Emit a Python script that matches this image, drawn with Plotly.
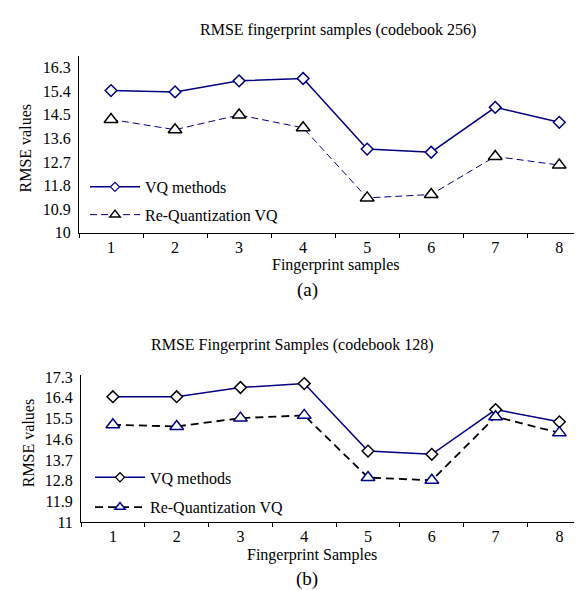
import plotly.graph_objects as go

W, H = 582, 590

samples = ["1", "2", "3", "4", "5", "6", "7", "8"]
vq_256 = [15.42, 15.37, 15.79, 15.88, 13.19, 13.07, 14.78, 14.21]
rq_256 = [14.32, 13.93, 14.49, 14.00, 11.33, 11.46, 12.91, 12.58]
vq_128 = [16.45, 16.45, 16.85, 17.02, 14.09, 13.95, 15.89, 15.36]
rq_128 = [15.23, 15.16, 15.52, 15.64, 12.94, 12.82, 15.58, 14.88]
yticks_256 = [10, 10.9, 11.8, 12.7, 13.6, 14.5, 15.4, 16.3]
yticks_128 = [11, 11.9, 12.8, 13.7, 14.6, 15.5, 16.4, 17.3]

NAVY = "#000080"
FONT = "Liberation Serif"


def px(x):
    return x / W


def py(y):
    return 1 - y / H


fig = go.Figure()

# top chart
fig.add_trace(go.Scatter(x=samples, y=vq_256, mode="lines+markers", xaxis="x", yaxis="y",
                         line=dict(color=NAVY, width=1.5),
                         marker=dict(symbol="diamond", size=9, color="white",
                                     line=dict(color=NAVY, width=1.5)),
                         showlegend=False))
fig.add_trace(go.Scatter(x=samples, y=rq_256, mode="lines+markers", xaxis="x", yaxis="y",
                         line=dict(color=NAVY, width=1, dash="7px,4px"),
                         marker=dict(symbol="triangle-up", size=12, color="white",
                                     line=dict(color="black", width=1.5)),
                         showlegend=False))
# legend samples top
fig.add_trace(go.Scatter(x=[None], y=[None], mode="lines+markers", xaxis="x", yaxis="y",
                         name="VQ methods", legend="legend", legendgroup="a1",
                         line=dict(color=NAVY, width=1.5),
                         marker=dict(symbol="diamond", size=7, color="white",
                                     line=dict(color=NAVY, width=1.2))))
fig.add_trace(go.Scatter(x=[None], y=[None], mode="lines+markers", xaxis="x", yaxis="y",
                         name="Re-Quantization VQ", legend="legend", legendgroup="a2",
                         line=dict(color=NAVY, width=1, dash="7px,4px"),
                         marker=dict(symbol="triangle-up", size=9, color="white",
                                     line=dict(color="black", width=1.5))))

# bottom chart
fig.add_trace(go.Scatter(x=samples, y=vq_128, mode="lines+markers", xaxis="x2", yaxis="y2",
                         line=dict(color=NAVY, width=1.5),
                         marker=dict(symbol="diamond", size=9, color="white",
                                     line=dict(color="black", width=1.5)),
                         showlegend=False))
fig.add_trace(go.Scatter(x=samples, y=rq_128, mode="lines+markers", xaxis="x2", yaxis="y2",
                         line=dict(color="black", width=1.8, dash="8px,5px"),
                         marker=dict(symbol="triangle-up", size=12, color="white",
                                     line=dict(color=NAVY, width=1.5)),
                         showlegend=False))
fig.add_trace(go.Scatter(x=[None], y=[None], mode="lines+markers", xaxis="x2", yaxis="y2",
                         name="VQ methods", legend="legend2", legendgroup="b1",
                         line=dict(color=NAVY, width=1.5),
                         marker=dict(symbol="diamond", size=7, color="white",
                                     line=dict(color="black", width=1.2))))
fig.add_trace(go.Scatter(x=[None], y=[None], mode="lines+markers", xaxis="x2", yaxis="y2",
                         name="Re-Quantization VQ", legend="legend2", legendgroup="b2",
                         line=dict(color="black", width=1.8, dash="8px,5px"),
                         marker=dict(symbol="triangle-up", size=9, color="white",
                                     line=dict(color=NAVY, width=1.5))))

xcommon = dict(type="category", tickson="boundaries", ticks="outside", ticklen=4,
               tickcolor="black", tickwidth=1, showline=True, linecolor="black",
               linewidth=1, showgrid=False, zeroline=False,
               tickfont=dict(family=FONT, size=16, color="black"))
ycommon = dict(showline=True, linecolor="black", linewidth=1, showgrid=False,
               zeroline=False, ticks="", tickmode="array", ticklabelstandoff=4,
               tickfont=dict(family=FONT, size=16, color="black"))

fig.update_layout(
    width=W, height=H,
    margin=dict(l=0, r=0, t=0, b=0),
    paper_bgcolor="white", plot_bgcolor="white",
    font=dict(family=FONT, size=16, color="black"),
    xaxis=dict(domain=[px(71), px(582)], range=[-0.5, 7.48], anchor="y", **xcommon),
    yaxis=dict(domain=[py(224.5), py(43.3)], range=[10, 16.73], anchor="x",
               tickvals=yticks_256, ticktext=[f"{v:g}" for v in yticks_256], **ycommon),
    xaxis2=dict(domain=[px(73), px(582)], range=[-0.5, 7.48], anchor="y2", **xcommon),
    yaxis2=dict(domain=[py(521.5), py(370)], range=[11, 17.41], anchor="x2",
                tickvals=yticks_128, ticktext=[f"{v:g}" for v in yticks_128], **ycommon),
    legend=dict(x=px(77), y=py(160), xanchor="left", yanchor="top",
                bgcolor="rgba(0,0,0,0)", borderwidth=0, tracegroupgap=4,
                itemwidth=50, font=dict(family=FONT, size=16, color="black")),
    legend2=dict(x=px(82), y=py(458), xanchor="left", yanchor="top",
                 bgcolor="rgba(0,0,0,0)", borderwidth=0, tracegroupgap=6,
                 itemwidth=50, font=dict(family=FONT, size=16, color="black")),
)

ann = [
    ("RMSE fingerprint samples (codebook 256)", 330, 16, 16, 0),
    ("Fingerprint samples", 328, 258, 16, 0),
    ("(a)", 299, 283, 19, 0),
    ("RMSE values", 17, 138, 16, -90),
    ("RMSE Fingerprint Samples (codebook 128)", 284, 340, 16, 0),
    ("Fingerprint Samples", 304, 555, 16, 0),
    ("(b)", 299, 580, 19, 0),
    ("RMSE values", 20.5, 441, 16, -90),
]
for text, x, y, size, ang in ann:
    fig.add_annotation(text=text, x=px(x), y=py(y), xref="paper", yref="paper",
                       xanchor="center", yanchor="middle", showarrow=False,
                       textangle=ang, font=dict(family=FONT, size=size, color="black"))

fig.write_html("out.html")
